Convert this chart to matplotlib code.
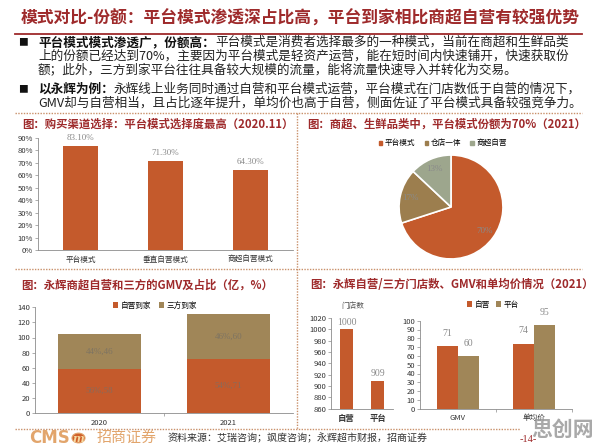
import matplotlib
matplotlib.use('Agg')
import matplotlib.pyplot as plt
from matplotlib.patches import Patch, Circle
from matplotlib.lines import Line2D
from matplotlib import transforms
import numpy as np

plt.rcParams['font.family'] = ['Noto Sans CJK SC', 'DejaVu Sans']

# ---------------- data ----------------
channel_cats = ['平台模式', '垂直自营模式', '商超自营模式']
channel_vals = [83.1, 71.3, 64.3]

share_labels = ['平台模式', '仓店一体', '商超自营']
share_vals = [70, 17, 13]

gmv_years = ['2020', '2021']
gmv_self = [58, 71]
gmv_third = [46, 60]

store_cats = ['自营', '平台']
store_vals = [1000, 909]

metric_cats = ['GMV', '单均价']
metric_self = [71, 74]
metric_platform = [60, 95]

# ---------------- style ----------------
ORANGE = '#C45A2C'
OLIVE = '#A08658'
PIE_BROWN = '#9C7E4E'
PIE_GREEN = '#9DA68D'
DARKRED = '#9E2A2B'
DOT = '#C9906A'
GRAYLBL = '#8a8a8a'
SERIF = ['Liberation Serif', 'DejaVu Serif']

W, H = 596, 446
fig = plt.figure(figsize=(5.96, 4.46), dpi=100)


def fx(x):
    return x / W


def fy(y):
    return 1 - y / H


def add_ax(x0, y0, x1, y1):
    return fig.add_axes([x0 / W, 1 - y1 / H, (x1 - x0) / W, (y1 - y0) / H])


def hline(x0, x1, y, **kw):
    fig.add_artist(Line2D([fx(x0), fx(x1)], [fy(y), fy(y)], transform=fig.transFigure, **kw))


def vline(x, y0, y1, **kw):
    fig.add_artist(Line2D([fx(x), fx(x)], [fy(y0), fy(y1)], transform=fig.transFigure, **kw))


def style_axes(ax, size=5.5):
    for s in ['top', 'right']:
        ax.spines[s].set_visible(False)
    for s in ['left', 'bottom']:
        ax.spines[s].set_color('#8c8c8c')
        ax.spines[s].set_linewidth(0.6)
    ax.tick_params(axis='both', labelsize=size, colors='#8c8c8c', labelcolor='#333333',
                   length=2, width=0.5, pad=1.5)
    ax.patch.set_alpha(0)


# ---------------- header ----------------
fig.text(fx(21), fy(19), '模式对比-份额：平台模式渗透深占比高，平台到家相比商超自营有较强优势',
         fontsize=12.1, fontweight='bold', color=DARKRED, ha='left', va='center')
hline(15, 582, 33.5, color=DARKRED, lw=1.3)


def mixed_line(x, y, bold, normal, size=9.0):
    fig.text(fx(x), fy(y), bold, fontsize=size, fontweight='bold', color='#111111',
             ha='left', va='center')
    tr = transforms.offset_copy(fig.transFigure, fig=fig, x=len(bold) * size, y=0, units='points')
    fig.text(fx(x), fy(y), normal, fontsize=size, color='#222222', ha='left', va='center',
             transform=tr)


BS = 9.1
fig.text(fx(23), fy(42.5), '■', fontsize=7, color='#111111', ha='center', va='center')
mixed_line(38, 42.5, '平台模式模式渗透广，份额高：',
           '平台模式是消费者选择最多的一种模式，当前在商超和生鲜品类', BS)
fig.text(fx(38), fy(56.5), '上的份额已经达到70%，主要因为平台模式是轻资产运营，能在短时间内快速铺开，快速获取份',
         fontsize=BS, color='#222222', ha='left', va='center')
fig.text(fx(38), fy(70.5), '额；此外，三方到家平台往往具备较大规模的流量，能将流量快速导入并转化为交易。',
         fontsize=BS, color='#222222', ha='left', va='center')
fig.text(fx(23), fy(89.5), '■', fontsize=7, color='#111111', ha='center', va='center')
mixed_line(38, 89.5, '以永辉为例：',
           '永辉线上业务同时通过自营和平台模式运营，平台模式在门店数低于自营的情况下，', BS)
fig.text(fx(38), fy(103.5), 'GMV却与自营相当，且占比逐年提升，单均价也高于自营，侧面佐证了平台模式具备较强竞争力。',
         fontsize=BS, color='#222222', ha='left', va='center')

# ---------------- panel borders ----------------
dot_kw = dict(color=DOT, lw=1.0, ls=(0, (1, 1)))
hline(15, 582, 113.3, **dot_kw)
hline(15, 582, 268.5, **dot_kw)
hline(15, 520, 429, **dot_kw)
vline(297, 113.3, 429, **dot_kw)

# ---------------- chart titles ----------------
CT = 8.2
fig.text(fx(22), fy(124), '图：购买渠道选择：平台模式选择度最高（2020.11）', fontsize=CT,
         fontweight='bold', color=DARKRED, ha='left', va='center')
fig.text(fx(307), fy(124), '图：商超、生鲜品类中，平台模式份额为70%（2021）', fontsize=CT,
         fontweight='bold', color=DARKRED, ha='left', va='center')
fig.text(fx(21), fy(285), '图：永辉商超自营和三方的GMV及占比（亿，%）', fontsize=CT,
         fontweight='bold', color=DARKRED, ha='left', va='center')
fig.text(fx(310), fy(285), '图：永辉自营/三方门店数、GMV和单均价情况（2021）', fontsize=CT,
         fontweight='bold', color=DARKRED, ha='left', va='center')

# ---------------- chart 1: channel bars ----------------
ax1 = add_ax(38, 137.7, 293, 250)
x1 = np.arange(len(channel_cats))
ax1.bar(x1, channel_vals, width=0.41, color=ORANGE)
ax1.set_xlim(-0.5, len(channel_cats) - 0.5)
ax1.set_ylim(0, 90)
ax1.set_yticks(np.arange(0, 91, 10))
ax1.set_yticklabels([f'{v}%' for v in range(0, 91, 10)])
ax1.set_xticks(x1)
ax1.set_xticklabels(channel_cats)
style_axes(ax1)
ax1.tick_params(axis='x', length=0, pad=4)
for xi, v in zip(x1, channel_vals):
    ax1.annotate(f'{v:.2f}%', (xi, v), xytext=(0, 3), textcoords='offset points',
                 ha='center', va='bottom', fontsize=6.5, color=GRAYLBL, family=SERIF)

# ---------------- chart 2: pie ----------------
ax2 = add_ax(398, 154, 504, 260)
wedges, _, autotexts = ax2.pie(share_vals, colors=[ORANGE, PIE_BROWN, PIE_GREEN], startangle=90,
                               counterclock=False, autopct='%d%%', pctdistance=0.8,
                               wedgeprops=dict(edgecolor='white', linewidth=1.2),
                               textprops=dict(fontsize=6.5, color=GRAYLBL, family=SERIF))
ax2.set_aspect('equal')
ax2.set_xlim(-1.02, 1.02)
ax2.set_ylim(-1.02, 1.02)
fig.legend(handles=[Patch(color=c, label=l) for c, l in zip([ORANGE, PIE_BROWN, PIE_GREEN], share_labels)],
           loc='center', bbox_to_anchor=(fx(443), fy(143.3)), ncol=3, frameon=False,
           fontsize=5.5, handlelength=0.4, handleheight=0.4, handletextpad=0.4, columnspacing=1.2)

# ---------------- chart 3: GMV stacked ----------------
ax3 = add_ax(35, 307.3, 293, 413)
x3 = np.arange(len(gmv_years))
b1 = ax3.bar(x3, gmv_self, width=0.64, color=ORANGE, label='自营到家')
b2 = ax3.bar(x3, gmv_third, width=0.64, bottom=gmv_self, color=OLIVE, label='三方到家')
ax3.set_xlim(-0.5, len(gmv_years) - 0.5)
ax3.set_ylim(0, 140)
ax3.set_yticks(np.arange(0, 141, 20))
ax3.set_xticks(x3)
ax3.set_xticklabels(gmv_years)
style_axes(ax3)
ax3.tick_params(axis='x', length=0, pad=4)
ax3.set_xticks([0.5], minor=True)
ax3.tick_params(axis='x', which='minor', length=2, width=0.5, colors='#8c8c8c')
for xi, s, t in zip(x3, gmv_self, gmv_third):
    tot = s + t
    ax3.text(xi, s / 2, f'{round(s / tot * 100)}%,{s}', ha='center', va='center', fontsize=6.5,
             color='#8a6a5a', family=SERIF)
    ax3.text(xi, s + t / 2, f'{round(t / tot * 100)}%,{t}', ha='center', va='center', fontsize=6.5,
             color='#7e7462', family=SERIF)
fig.legend(handles=[b1, b2], loc='center', bbox_to_anchor=(fx(155), fy(305.7)), ncol=2,
           frameon=False, fontsize=5.5, handlelength=0.7, handleheight=0.7, handletextpad=0.3,
           columnspacing=1.0)

# ---------------- chart 4: store counts ----------------
ax4 = add_ax(331, 318, 393, 408.7)
x4 = np.arange(len(store_cats))
ax4.bar(x4, store_vals, width=0.4, color=ORANGE)
ax4.set_xlim(-0.5, len(store_cats) - 0.5)
ax4.set_ylim(860, 1020)
ax4.set_yticks(np.arange(860, 1021, 20))
ax4.set_xticks(x4)
ax4.set_xticklabels(store_cats, fontweight='bold')
style_axes(ax4)
ax4.tick_params(axis='x', length=0, pad=4, labelsize=6)
for xi, v in zip(x4, store_vals):
    ax4.annotate(f'{v}', (xi, v), xytext=(0, 2), textcoords='offset points',
                 ha='center', va='bottom', fontsize=7, color=GRAYLBL, family=SERIF)
fig.text(fx(353), fy(305.7), '门店数', fontsize=5.5, color='#555555', ha='center', va='center')

# ---------------- chart 5: GMV & AOV ----------------
ax5 = add_ax(420, 320.7, 572, 408.7)
x5 = np.arange(len(metric_cats))
bw = 0.28
c1 = ax5.bar(x5 - bw / 2, metric_self, width=bw, color=ORANGE, label='自营')
c2 = ax5.bar(x5 + bw / 2, metric_platform, width=bw, color=OLIVE, label='平台')
ax5.set_xlim(-0.5, len(metric_cats) - 0.5)
ax5.set_ylim(0, 100)
ax5.set_yticks(np.arange(0, 101, 10))
ax5.set_xticks(x5)
ax5.set_xticklabels(metric_cats)
style_axes(ax5)
ax5.tick_params(axis='x', length=0, pad=4)
ax5.set_xticks([0.5, 1.5], minor=True)
ax5.tick_params(axis='x', which='minor', length=2, width=0.5, colors='#8c8c8c')
for bars, vals in [(c1, metric_self), (c2, metric_platform)]:
    for r, v in zip(bars, vals):
        ax5.annotate(f'{v}', (r.get_x() + r.get_width() / 2, v), xytext=(0, 6),
                     textcoords='offset points', ha='center', va='bottom', fontsize=7,
                     color=GRAYLBL, family=SERIF)
fig.legend(handles=[c1, c2], loc='center', bbox_to_anchor=(fx(493), fy(304.7)), ncol=2,
           frameon=False, fontsize=5.5, handlelength=0.7, handleheight=0.7, handletextpad=0.3,
           columnspacing=0.8)

# ---------------- footer ----------------
fig.text(fx(29), fy(438), 'CMS', fontsize=12, fontweight='bold', color='#E2A56C', ha='left',
         va='center', family=['DejaVu Sans'])
fig.add_artist(Circle((fx(78.5), fy(438)), 6.5 / W, transform=fig.transFigure, color='#D0602A',
                      ec='#E2A56C', lw=0.8))
fig.text(fx(78.5), fy(438), 'm', fontsize=8, fontweight='bold', fontstyle='italic', color='#F6D9A0',
         ha='center', va='center', family=['DejaVu Serif'])
fig.text(fx(97), fy(438), '招商证券', fontsize=10.8, color='#E2A56C', ha='left', va='center')
fig.text(fx(168), fy(438.5), '资料来源：艾瑞咨询；飒度咨询；永辉超市财报，招商证券', fontsize=7.2,
         color='#333333', ha='left', va='center')
fig.text(fx(528), fy(439), '-14-', fontsize=7.5, color=DARKRED, ha='center', va='center',
         family=SERIF)
fig.text(fx(563), fy(429), '思创网', fontsize=15, fontweight='bold', color='#9a9a9a', alpha=0.85,
         ha='center', va='center')

fig.savefig('out.png', dpi=100)
